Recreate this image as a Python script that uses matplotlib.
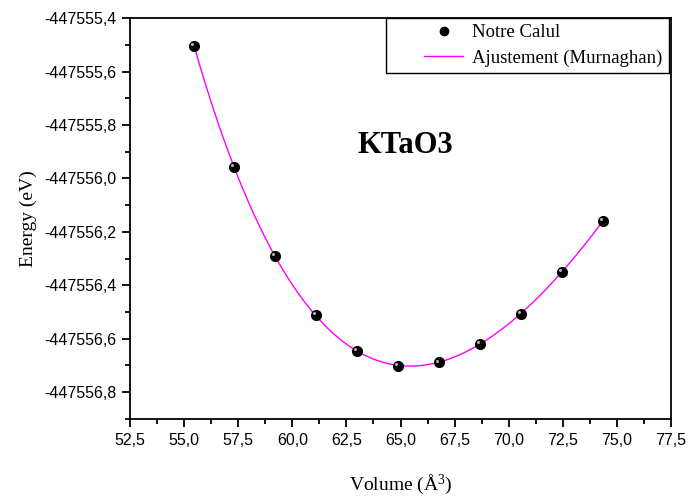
"""E(V) curve for KTaO3 with a Murnaghan fit."""
import numpy as np
import matplotlib.pyplot as plt
from matplotlib.ticker import MultipleLocator, FuncFormatter
from matplotlib.transforms import ScaledTranslation
from matplotlib.patches import Rectangle

plt.rcParams["mathtext.fontset"] = "custom"
plt.rcParams["mathtext.rm"] = "Liberation Serif"
plt.rcParams["mathtext.it"] = "Liberation Serif:italic"

# volumes (A^3) and total energies (eV)
volume = [55.46, 57.31, 59.20, 61.10, 62.99, 64.88, 66.78, 68.67, 70.57, 72.46, 74.36]
energy = [-447555.503, -447555.958, -447556.291, -447556.512, -447556.647,
          -447556.702, -447556.689, -447556.620, -447556.507, -447556.349,
          -447556.158]

V = np.array(volume)
E = np.array(energy)
e_ref = E.min()


def murn_shape(v, v0, bp):
    return v / bp * ((v0 / v) ** bp / (bp - 1) + 1) - v0 / (bp - 1)


# Murnaghan fit: grid over V0, B' with E0, B solved linearly
best = None
for v0 in np.linspace(62, 68, 121):
    for bp in np.linspace(2.0, 8.0, 61):
        A = np.column_stack([np.ones_like(V), murn_shape(V, v0, bp)])
        coef, *_ = np.linalg.lstsq(A, E - e_ref, rcond=None)
        res = np.sum((A @ coef - (E - e_ref)) ** 2)
        if best is None or res < best[0]:
            best = (res, v0, bp, coef)
_, v0, bp, (e0, b0) = best
v_fit = np.linspace(V.min(), V.max(), 300)
e_fit = e_ref + e0 + b0 * murn_shape(v_fit, v0, bp)

fig = plt.figure(figsize=(6.88, 4.98), dpi=100)
ax = fig.add_axes([130 / 688, 1 - 418.7 / 498, 541 / 688, 400.4 / 498])

ax.plot(v_fit, e_fit, color="#ff00ff", lw=1.0, zorder=2,
        label="Ajustement (Murnaghan)")
ax.plot(V, E, "o", color="black", ms=7, mec="black", zorder=3, ls="none",
        label="Notre Calul")
# small highlight on each sphere
hl = ax.transData + ScaledTranslation(-1.3 / 72, 1.3 / 72, fig.dpi_scale_trans)
ax.plot(V, E, "o", color="#b0b0b0", ms=2.2, mew=0, transform=hl, zorder=4)

ax.set_xlim(52.5, 77.5)
ax.set_ylim(-447556.9, -447555.4)
ax.xaxis.set_major_locator(MultipleLocator(2.5))
ax.xaxis.set_minor_locator(MultipleLocator(1.25))
ax.yaxis.set_major_locator(MultipleLocator(0.2))
ax.yaxis.set_minor_locator(MultipleLocator(0.1))
comma = FuncFormatter(lambda v, p: f"{v:.1f}".replace(".", ","))
ax.xaxis.set_major_formatter(comma)
ax.yaxis.set_major_formatter(comma)

ax.tick_params(which="both", direction="out", width=1.3, top=False, right=False)
ax.tick_params(which="major", length=6, labelsize=11.5, pad=4)
ax.tick_params(which="minor", length=3.5)
for lab in ax.get_xticklabels() + ax.get_yticklabels():
    lab.set_family("Liberation Sans")
for s in ax.spines.values():
    s.set_linewidth(1.3)

ax.set_xlabel("Volume (Å$^{3}$)", family="Liberation Serif", fontsize=14, labelpad=18)
ax.set_ylabel("Energy (eV)", family="Liberation Serif", fontsize=14, labelpad=5)

ax.text(0.508, 0.682, "KTaO3", transform=ax.transAxes, ha="center", va="center",
        family="Liberation Serif", fontsize=22, fontweight="bold")

# legend frame
ax.add_patch(Rectangle(((386 - 130) / 541, 1 - (73 - 18.3) / 400.4),
                       (669 - 386) / 541, (73 - 18.3) / 400.4,
                       transform=ax.transAxes, fill=False, lw=1.0,
                       edgecolor="black", zorder=5, clip_on=False))
handles, labels = ax.get_legend_handles_labels()
leg_handles = [plt.Line2D([], [], marker="o", color="black", ls="none", ms=6),
               handles[0]]
ax.legend(leg_handles, labels[::-1], loc="upper left",
          bbox_to_anchor=((424 - 130) / 541, 1 - (24 - 18.3) / 400.4),
          frameon=False, borderpad=0, borderaxespad=0, handlelength=2.08,
          handletextpad=0.5, labelspacing=0.45,
          prop={"family": "Liberation Serif", "size": 13.5})

fig.savefig("out.png", dpi=100)
